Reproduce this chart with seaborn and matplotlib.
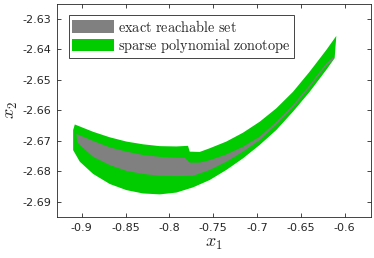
import numpy as np
import matplotlib
matplotlib.use('Agg')
import matplotlib.pyplot as plt
import seaborn as sns

sns.set_style('ticks')
plt.rcParams['mathtext.fontset'] = 'cm'
plt.rcParams['font.family'] = ['DejaVu Sans']

# outer set (sparse polynomial zonotope), clockwise from top-left corner
spz_x = [-0.9080, -0.8871, -0.8681, -0.8491, -0.8301, -0.8111, -0.7921, -0.7788,
         -0.7769, -0.7655, -0.7541, -0.7351, -0.7161, -0.6970, -0.6780, -0.6590,
         -0.6400, -0.6210, -0.6096,
         -0.6115,
         -0.6210, -0.6400, -0.6590, -0.6780, -0.6970, -0.7161, -0.7351, -0.7541,
         -0.7731, -0.7921, -0.8111, -0.8301, -0.8491, -0.8681, -0.8871, -0.9023,
         -0.9099, -0.9099]
spz_y = [-2.6646, -2.6670, -2.6688, -2.6702, -2.6711, -2.6717, -2.6718, -2.6716,
         -2.6735, -2.6736, -2.6724, -2.6702, -2.6673, -2.6637, -2.6593, -2.6539,
         -2.6473, -2.6402, -2.6356,
         -2.6429,
         -2.6467, -2.6539, -2.6604, -2.6664, -2.6713, -2.6757, -2.6795, -2.6828,
         -2.6852, -2.6869, -2.6875, -2.6872, -2.6861, -2.6841, -2.6808, -2.6768,
         -2.6730, -2.6664]

# exact reachable set
exact_x = [-0.9061, -0.8871, -0.8681, -0.8491, -0.8301, -0.8111, -0.7921, -0.7826,
           -0.7769, -0.7655, -0.7541, -0.7351, -0.7161, -0.6970, -0.6780, -0.6590,
           -0.6400, -0.6210, -0.6127,
           -0.6134,
           -0.6210, -0.6400, -0.6590, -0.6780, -0.6970, -0.7161, -0.7351, -0.7541,
           -0.7731, -0.7921, -0.8111, -0.8301, -0.8491, -0.8681, -0.8871, -0.9023,
           -0.9053]
exact_y = [-2.6677, -2.6700, -2.6721, -2.6735, -2.6746, -2.6752, -2.6755, -2.6755,
           -2.6771, -2.6771, -2.6763, -2.6744, -2.6719, -2.6686, -2.6637, -2.6582,
           -2.6517, -2.6446, -2.6424,
           -2.6435,
           -2.6453, -2.6524, -2.6590, -2.6646, -2.6697, -2.6735, -2.6768, -2.6795,
           -2.6814, -2.6815, -2.6814, -2.6808, -2.6798, -2.6779, -2.6752, -2.6713,
           -2.6702]

x_ticks = [-0.9, -0.85, -0.8, -0.75, -0.7, -0.65, -0.6]
y_ticks = [-2.63, -2.64, -2.65, -2.66, -2.67, -2.68, -2.69]

fig = plt.figure(figsize=(3.74, 2.58), dpi=100)
ax = fig.add_axes([0.152, 0.159, 0.840, 0.826])

ax.fill(spz_x, spz_y, color='#00cc00', lw=0, label=r'$\mathrm{sparse\ polynomial\ zonotope}$')
ax.fill(exact_x, exact_y, color='#808080', lw=0, label=r'$\mathrm{exact\ reachable\ set}$')

ax.set_xlim(-0.9285, -0.570)
ax.set_ylim(-2.6949, -2.6251)
ax.set_xticks(x_ticks)
ax.set_xticklabels([f'{v:g}' for v in x_ticks])
ax.set_yticks(y_ticks)
ax.set_yticklabels([f'{v:g}' for v in y_ticks])
ax.tick_params(direction='in', length=3, width=0.6, color='#262626', labelcolor='#262626',
               labelsize=8, top=True, right=True, pad=4)
for s in ax.spines.values():
    s.set_color('#262626')
    s.set_linewidth(0.6)

ax.set_xlabel(r'$x_1$', fontsize=13, labelpad=1)
ax.set_ylabel(r'$x_2$', fontsize=13, labelpad=2)

h, l = ax.get_legend_handles_labels()
leg = ax.legend(h[::-1], l[::-1], loc='upper left', bbox_to_anchor=(0.038, 0.948),
                borderaxespad=0, fontsize=10.3, fancybox=False, framealpha=1,
                edgecolor='#262626', handlelength=2.9, handleheight=0.95,
                handletextpad=0.3, labelspacing=0.15, borderpad=0.25)
leg.get_frame().set_linewidth(0.6)

fig.savefig('out.png', dpi=100)
